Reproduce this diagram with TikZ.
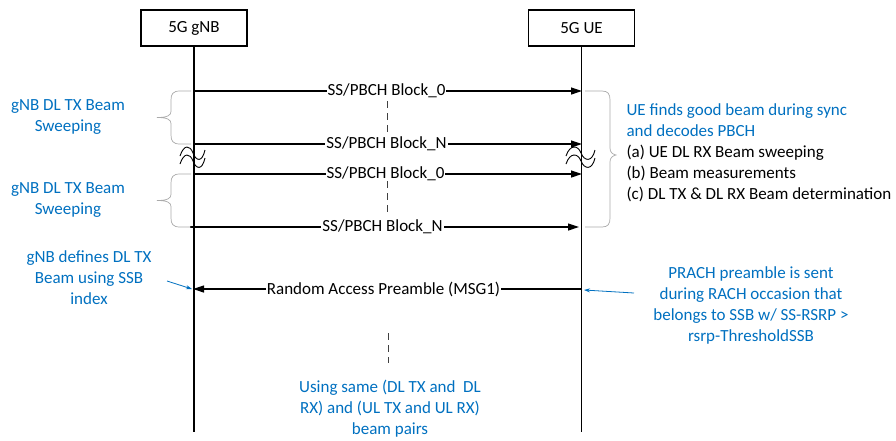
\documentclass[tikz,border=0pt]{standalone}
\usepackage{fontspec}
\setmainfont{Carlito}
\usetikzlibrary{arrows.meta}
\definecolor{ublue}{RGB}{0,112,192}
\definecolor{bracegray}{RGB}{170,170,170}
\begin{document}
\begin{tikzpicture}[x=1pt,y=-1pt,
  every node/.style={font=\fontsize{17}{21}\selectfont},
  actor/.style={draw,line width=1.3pt,minimum width=106pt,minimum height=36pt,inner sep=0pt},
  life/.style={line width=1.3pt},
  msg/.style={line width=1.2pt,-{Triangle[length=11pt,width=7pt]}},
  mlabel/.style={fill=white,inner sep=1pt},
  gap/.style={dashed,dash pattern=on 7pt off 5pt,line width=1pt,black!75},
  bracestyle/.style={bracegray,line width=0.7pt},
  note/.style={text=ublue,align=center},
  pointer/.style={ublue,line width=0.8pt,-{Stealth[length=6pt,width=4pt]}},
  squig/.style={line width=0.9pt}]
\useasboundingbox (0,0) rectangle (896,440);

% actors
\node[actor] (gnb) at (194,28) {5G gNB};
\node[actor] (ue) at (581.5,28) {5G UE};
\coordinate (gnbEnd) at (193,432);
\coordinate (ueEnd) at (582,432);
\draw[life] (gnb.south) -- (gnb.south |- gnbEnd);
\draw[life] (ue.south) -- (ue.south |- ueEnd);

% arrow endpoints
\coordinate (g1) at (193,91);   \coordinate (u1) at (582,91);
\coordinate (g2) at (193,144);  \coordinate (u2) at (582,144);
\coordinate (g3) at (193,174);  \coordinate (u3) at (582,174);
\coordinate (g4) at (190,227);  \coordinate (u4) at (579,227);
\coordinate (g5) at (193,289);  \coordinate (u5) at (582,289);

\draw[msg] (g1) -- node[mlabel,xshift=-1pt] (m1) {SS/PBCH Block\_0} (u1);
\draw[msg] (g2) -- node[mlabel,xshift=-1pt] (m2) {SS/PBCH Block\_N} (u2);
\draw[msg] (g3) -- node[mlabel,xshift=-2pt] (m3) {SS/PBCH Block\_0} (u3);
\draw[msg] (g4) -- node[mlabel,xshift=-2pt] (m4) {SS/PBCH Block\_N} (u4);
\draw[msg] (u5) -- node[mlabel,xshift=-4pt] (m5) {Random Access Preamble (MSG1)} (g5);

% dashed continuation marks
\coordinate (d1a) at (387,101); \coordinate (d1b) at (387,134);
\coordinate (d2a) at (387,181); \coordinate (d2b) at (387,212);
\coordinate (d3a) at (388,333); \coordinate (d3b) at (388,363);
\draw[gap] (d1a) -- (d1b);
\draw[gap] (d2a) -- (d2b);
\draw[gap] (d3a) -- (d3b);

% squiggles (time breaks)
\foreach \cx/\w in {193/11,581/13}{
  \foreach \yo in {152,160}{
    \draw[squig] (\cx-\w-2,\yo+4) .. controls (\cx-\w+2,\yo-8) and (\cx-3,\yo-7) .. (\cx,\yo+1)
                  .. controls (\cx+3,\yo+9) and (\cx+\w-2,\yo+11) .. (\cx+\w+1,\yo-2);
  }
}

% left braces
\foreach \t/\b in {91/144,174/227}{
  \pgfmathsetmacro{\m}{(\t+\b)/2}
  \draw[bracestyle] (191,\t) -- (180,\t) .. controls (173,\t) and (171,\t+3) .. (171,\t+9)
     -- (171,\m-6) .. controls (171,\m-2) and (167,\m) .. (157,\m)
     .. controls (167,\m) and (171,\m+2) .. (171,\m+6)
     -- (171,\b-9) .. controls (171,\b-3) and (173,\b) .. (180,\b) -- (191,\b);
}
% right brace
\draw[bracestyle] (585,91) -- (602,91) .. controls (608,91) and (610,94) .. (610,100)
   -- (610,148) .. controls (610,152) and (612,154) .. (616,155)
   .. controls (612,156) and (610,158) .. (610,162)
   -- (610,218) .. controls (610,224) and (608,227) .. (602,227) -- (585,227);

% notes
\node[note] (n1) at (68,117) {gNB DL TX Beam\\Sweeping};
\node[note] (n2) at (68,200) {gNB DL TX Beam\\Sweeping};
\node[note,align=left,anchor=north west] (n3) at (623,100)
  {UE finds good beam during sync\\and decodes PBCH\\\textcolor{black}{(a) UE DL RX Beam sweeping}\\\textcolor{black}{(b) Beam measurements}\\\textcolor{black}{(c) DL TX \& DL RX Beam determination}};
\node[note] (n4) at (89,278) {gNB defines DL TX\\Beam using SSB\\index};
\node[note] (n5) at (751,305) {PRACH preamble is sent\\during RACH occasion that\\belongs to SSB w/ SS-RSRP >\\rsrp-ThresholdSSB};
\node[note] (n6) at (390,409) {Using same (DL TX and~ DL\\RX) and (UL TX and UL RX)\\beam pairs};

\coordinate (p1a) at (167,281); \coordinate (p1b) at (192,289);
\coordinate (p2a) at (634,293); \coordinate (p2b) at (584,290);
\draw[pointer] (p1a) -- (p1b);
\draw[pointer] (p2a) -- (p2b);
\end{tikzpicture}
\end{document}
